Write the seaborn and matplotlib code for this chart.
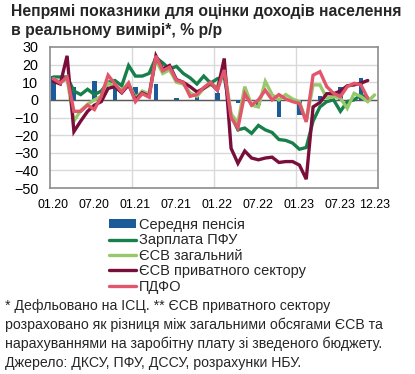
import numpy as np
import pandas as pd
import matplotlib
matplotlib.use("Agg")
import matplotlib.pyplot as plt
import seaborn as sns
from matplotlib.patches import Patch
from matplotlib.lines import Line2D

# ---------------- data ----------------
months = [f"{m:02d}.{y}" for y in (20, 21, 22, 23) for m in range(1, 13)]

pension_months = months[0::3]
pension = [13.3, 7.5, 10.7, 8.0, 7.5, 8.8, 1.3, 2.5, 4.0, -1.5, -3.0, -9.5, -8.5, 2.0, 7.5, 12.2]

salary_pfu = [13, 13, 13, 5, 3, 6, 3, 5, 10, 11, 8, 19.5,
              13.5, 13.5, 15, 24, 21, 17.5, 19, 15, 12.5, 9, 13.5, 9.5,
              12, 13, -9, -17, -16, -19, -14.5, -17, -18.5, -22.5, -23, -24.5,
              -28, -27, -12, -4, -1, 0, -6.5, -1, 0, 2.8, 1]

esv_total = [12, 10, 12, -12, -6, -2.5, 0, 2, 9.5, 7.5, 5.5, 9.5,
             1, 5, 3.5, 22.5, 15, 17, 10, 9, 4, 2, 6.5, 8.5,
             7.5, 18, -8, -13, 7.5, -3, -4, 10.5, 3, 0, 3, 0.5,
             -1, -12, 8.5, 8.5, 1, 1.9, 1, -4.8, 3.7, 1.9, -1, 2.8]

esv_private = [10.5, 9, 25, -18, -12, -6.5, -3, -1, 6.5, 7.5, 4, 8.5,
               0, 4, 2, 25, 17.5, 19.5, 11.5, 10, 7.5, 4.5, 6.5, 9.5,
               5.5, 23.5, -27.5, -36, -29, -33, -34, -33, -32.5, -35.5, -35, -35,
               -37, -45, -4, -1.5, 3.5, 3.5, 5, 8, 8.5, 9.5, 11]

pdfo = [12, 9.5, 13, -6.5, -6.5, -3, -5.5, 2, 14, 9, 4.5, 9.5,
        -1, 3.5, 1.5, 25, 16.5, 18.5, 11, 10, 2, 3, 7, 10,
        5.5, 17, -10, -16, 3.5, -3, 0, 5.5, 0, 3, 0.5, -1,
        -2, -12.5, 14, 16, 7.5, 3.7, 1.9, 7.5, 9.4, 8.5, 0.9]

tick_pos = [0, 6, 12, 18, 24, 30, 36, 42, 47]
tick_labels = ["01.20", "07.20", "01.21", "07.21", "01.22", "07.22", "01.23", "07.23", "12.23"]

labels = ["Середня пенсія", "Зарплата ПФУ", "ЄСВ загальний", "ЄСВ приватного сектору", "ПДФО"]
colors = ["#1b5b98", "#17804a", "#97c96a", "#7a0e3a", "#e2566b"]

title = "Непрямі показники для оцінки доходів населення\nв реальному вимірі*, % р/р"
note = ("* Дефльовано на ІСЦ. ** ЄСВ приватного сектору\n"
        "розраховано як різниця між загальними обсягами ЄСВ та\n"
        "нарахуваннями на заробітну плату зі зведеного бюджету.\n"
        "Джерело: ДКСУ, ПФУ, ДССУ, розрахунки НБУ.")

# ---------------- plot ----------------
sns.set_theme(style="white")
plt.rcParams["font.family"] = ["Liberation Sans", "DejaVu Sans"]

W, H = 415, 374
fig = plt.figure(figsize=(W / 100, H / 100), dpi=100)
ax = fig.add_axes([50 / W, 1 - 188 / H, 328 / W, 141 / H])

bar_df = pd.DataFrame({"month": pension_months, "value": pension})
sns.barplot(data=bar_df, x="month", y="value", order=months, color=colors[0],
            width=0.62, saturation=1, ax=ax, zorder=3, edgecolor="none", linewidth=0)

series = [salary_pfu, esv_total, esv_private, pdfo]
for k, s in enumerate(series):
    df = pd.DataFrame({"x": np.arange(len(s)), "y": s})
    sns.lineplot(data=df, x="x", y="y", color=colors[k + 1], lw=2.4, ax=ax,
                 zorder=4 + k, solid_joinstyle="miter")

ax.set_xlim(-0.5, 47.5)
ax.set_ylim(-50, 30)
ax.set_yticks(np.arange(-50, 31, 10))
ax.set_xticks(tick_pos)
ax.set_xticklabels(tick_labels)
ax.set_xlabel("")
ax.set_ylabel("")
ax.tick_params(axis="both", length=0, colors="black")
ax.tick_params(axis="y", labelsize=10.4, pad=8.5)
ax.tick_params(axis="x", labelsize=8.9, pad=8)

for yv in range(-40, 30, 10):
    ax.axhline(yv, color="#d9d9d9", lw=1.0, zorder=0)
for xv in (11.5, 23.5, 35.5):
    ax.axvline(xv, color="#d9d9d9", lw=1.0, zorder=0)
ax.axhline(0, color="#595959", lw=1.0, zorder=2)

for sp in ax.spines.values():
    sp.set_visible(True)
    sp.set_color("#8c8c8c")
    sp.set_linewidth(1.2)

handles = [Patch(facecolor=colors[0], edgecolor="none")] + \
          [Line2D([0], [0], color=c, lw=2.4) for c in colors[1:]]
fig.legend(handles, labels, loc="upper left",
           bbox_to_anchor=(109 / W, 1 - 218 / H), frameon=False,
           fontsize=10.5, handlelength=1.85, handleheight=0.6, handletextpad=0.2,
           labelspacing=0.1, borderpad=0, borderaxespad=0)

fig.text(11 / W, 1 - 4 / H, title, ha="left", va="top", fontsize=11.3,
         fontweight="bold", linespacing=1.3)
fig.text(5 / W, 1 - 299 / H, note, ha="left", va="top", fontsize=10.2,
         linespacing=1.42)

fig.savefig("out.png", dpi=100)
